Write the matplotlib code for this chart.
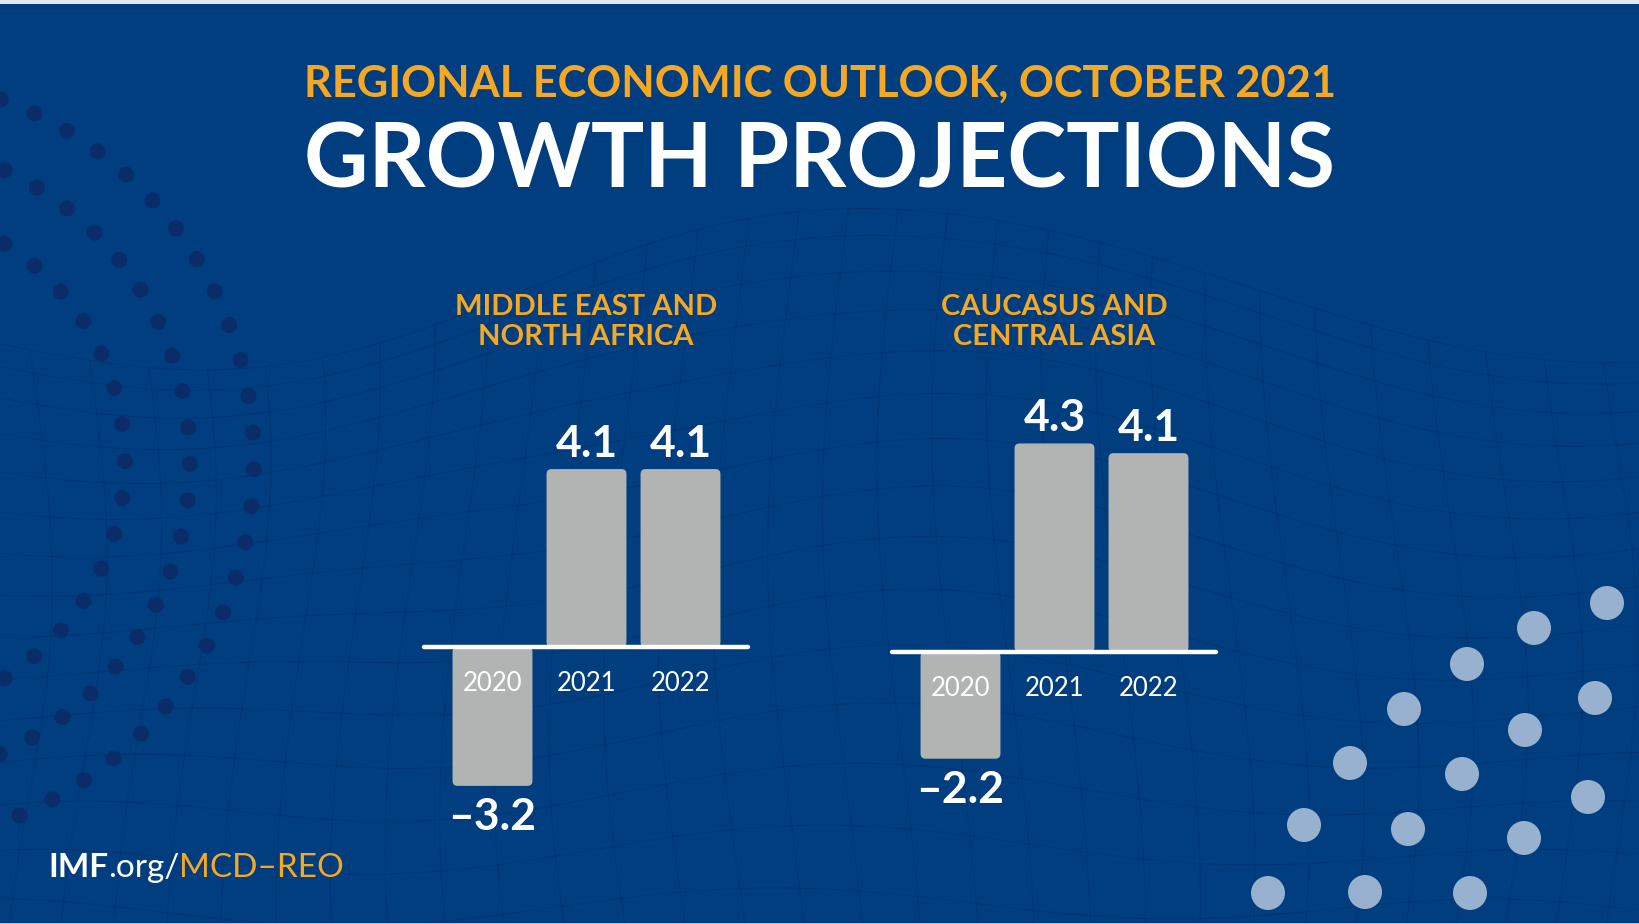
import numpy as np
import matplotlib.pyplot as plt
from matplotlib.patches import FancyBboxPatch, Circle, Rectangle

# data
years = ['2020', '2021', '2022']
mena_growth = [-3.2, 4.1, 4.1]
cca_growth = [-2.2, 4.3, 4.1]
mena_name = ['MIDDLE EAST AND', 'NORTH AFRICA']
cca_name = ['CAUCASUS AND', 'CENTRAL ASIA']
supertitle = 'REGIONAL ECONOMIC OUTLOOK, OCTOBER 2021'
title = 'GROWTH PROJECTIONS'

W, H = 1640, 924
BLUE = '#013e7f'
GOLD = '#f5a823'
BAR = '#b2b4b3'
FONT = 'Lato'

fig = plt.figure(figsize=(W / 100, H / 100), dpi=100)
fig.patch.set_facecolor(BLUE)

# background layer in pixel coords (y down)
bg = fig.add_axes([0, 0, 1, 1])
bg.set_xlim(0, W)
bg.set_ylim(H, 0)
bg.axis('off')

# faint wire mesh
us = np.linspace(-0.05, 1.05, 34)
vs = np.linspace(0, 1, 16) ** 1.25
def mesh(u, v):
    top = 345 - 130 * np.exp(-((u - 0.55) / 0.25) ** 2) + 20 * np.sin(u * 9)
    x = u * W + 25 * np.sin(v * 4 + u * 6)
    y = top + v * (H + 40 - top) + 14 * np.sin(u * 14 + v * 5)
    return x, y
uu = np.linspace(-0.05, 1.05, 300)
for v in vs:
    x, y = mesh(uu, v)
    bg.plot(x, y, color='#03306a', lw=0.8, alpha=0.55, zorder=0)
vv = np.linspace(0, 1, 120)
for u in us:
    x, y = mesh(u, vv)
    bg.plot(x, y, color='#03306a', lw=0.8, alpha=0.55, zorder=0)

# dark dotted arcs on the left
for r, a0, a1, n in [(385, -70, 67, 26), (321, -65, 66, 21), (256, -58, 58, 15)]:
    for a in np.radians(np.linspace(a0, a1, n)):
        bg.add_patch(Circle((-131 + r * np.cos(a), 461 + r * np.sin(a)), 8,
                            color='#0a2d69', lw=0, zorder=2))

# light dots bottom right
light_dots = [(1268, 893), (1304, 825), (1350, 763), (1404, 709), (1467, 664),
              (1534, 628), (1607, 603), (1365, 892), (1408, 829), (1462, 774),
              (1525, 730), (1595, 698), (1470, 893), (1524, 838), (1588, 797)]
for p in light_dots:
    bg.add_patch(Circle(p, 17, color='#97b1cf', lw=0, zorder=2))

bg.add_patch(Rectangle((0, 0), W, 4, color='#e4e8ed', lw=0, zorder=3))
bg.add_patch(Rectangle((0, H - 1.5), W, 1.5, color='#a9bdd3', lw=0, zorder=3))

# titles
bg.text(W / 2, 97, supertitle, ha='center', va='baseline', color=GOLD,
        fontsize=31.2, fontweight='bold', family=FONT)
bg.text(W / 2, 188, title, ha='center', va='baseline', color='white',
        fontsize=64, fontweight='bold', family=FONT)


def draw_panel(left, base, ppu, values, name):
    unit = 94
    x0, x1 = -0.75, 2.74
    top, bot = 380, 840
    ax = fig.add_axes([left / W, 1 - bot / H, (x1 - x0) * unit / W, (bot - top) / H])
    ax.set_xlim(x0, x1)
    ax.set_ylim(-(bot - base) / ppu, (base - top) / ppu)
    ax.axis('off')
    bars = ax.bar(range(len(values)), values, width=0.85, color=BAR)
    for b, v in zip(bars, values):
        b.set_visible(False)
        ax.add_patch(FancyBboxPatch((b.get_x(), min(0, v)), b.get_width(), abs(v),
                                    boxstyle='round,pad=0,rounding_size=%f' % (5 / unit),
                                    mutation_aspect=unit / ppu, fc=BAR, ec='none'))
    ax.plot([x0 + 0.02, x1 - 0.02], [0, 0], color='white', lw=3.2,
            solid_capstyle='round', clip_on=False, zorder=3)
    for i, (yr, v) in enumerate(zip(years, values)):
        ax.text(i, -44 / ppu, yr, ha='center', va='baseline', color='white',
                fontsize=18.5, family=FONT, fontweight='normal')
        lab = ('%.1f' % v).replace('-', '\u2013')
        y = v + 12 / ppu if v > 0 else v - 44 / ppu
        ax.text(i, y, lab, ha='center', va='baseline', color='white',
                fontsize=32, fontweight='bold', family=FONT)
    cx = left + (x1 - x0) * unit / 2
    bg.text(cx, 315, name[0], ha='center', va='baseline', color=GOLD,
            fontsize=21, fontweight='bold', family=FONT)
    bg.text(cx, 345, name[1], ha='center', va='baseline', color=GOLD,
            fontsize=21, fontweight='bold', family=FONT)


draw_panel(422, 647, 43.4, mena_growth, mena_name)
draw_panel(890, 652, 48.5, cca_growth, cca_name)

# footer link
r = fig.canvas.get_renderer()
x = 48
for s, c, w in [('IMF', 'white', 'bold'), ('.org/', 'white', 'normal'), ('MCD\u2013REO', GOLD, 'normal')]:
    t = bg.text(x, 877, s, ha='left', va='baseline', color=c, fontsize=24,
                fontweight=w, family=FONT)
    x = t.get_window_extent(r).x1

fig.savefig('out.png', dpi=100, facecolor=BLUE)
